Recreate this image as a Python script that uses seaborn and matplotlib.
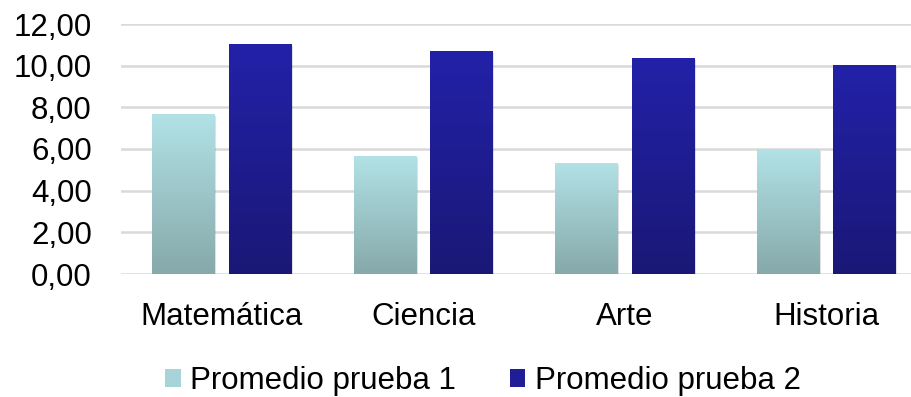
import matplotlib

matplotlib.use("Agg")

import matplotlib.pyplot as plt
import numpy as np
import pandas as pd
import seaborn as sns
from matplotlib.colors import LinearSegmentedColormap
from matplotlib.patches import Patch
from matplotlib.ticker import FuncFormatter

categories = ["Matemática", "Ciencia", "Arte", "Historia"]
series_names = ["Promedio prueba 1", "Promedio prueba 2"]
prueba_1 = [7.68, 5.66, 5.33, 5.99]
prueba_2 = [11.04, 10.70, 10.37, 10.03]
y_ticks = [0, 2, 4, 6, 8, 10, 12]

df = pd.DataFrame(
    {
        "materia": categories * 2,
        "serie": [series_names[0]] * 4 + [series_names[1]] * 4,
        "valor": prueba_1 + prueba_2,
    }
)

# bottom -> top colours of each gradient
gradients = {
    series_names[0]: ("#86a9aa", "#b2e2e6"),
    series_names[1]: ("#1a1876", "#2321a8"),
}
legend_colors = ["#a6d4d8", "#1f1e98"]

sns.set_theme(style="white")
plt.rcParams["font.family"] = ["Liberation Sans", "DejaVu Sans"]

fig = plt.figure(figsize=(9.11, 3.97), dpi=100)
ax = fig.add_axes([121 / 911, 1 - 274 / 397, 806 / 911, 250 / 397])

sns.barplot(
    data=df,
    x="materia",
    y="valor",
    hue="serie",
    order=categories,
    hue_order=series_names,
    width=0.76,
    gap=0.18,
    palette=legend_colors,
    legend=False,
    ax=ax,
)

ramp = np.linspace(0, 1, 256).reshape(-1, 1)
for container, name in zip(ax.containers, series_names):
    cmap = LinearSegmentedColormap.from_list(name, gradients[name])
    for bar in container:
        x0 = bar.get_x()
        w = bar.get_width()
        h = bar.get_height()
        # faint shadow
        ax.add_patch(
            plt.Rectangle((x0 + 0.006, -0.08), w, h, color="#000000",
                          alpha=0.12, lw=0, zorder=1.5)
        )
        img = ax.imshow(
            ramp,
            cmap=cmap,
            origin="lower",
            extent=[x0, x0 + w, 0, h],
            aspect="auto",
            zorder=2.5,
        )
        img.set_clip_path(bar)
        bar.set_facecolor("none")
        bar.set_edgecolor("none")

ax.set_xlim(-0.5, 3.5)
ax.set_ylim(0, 12)
ax.set_yticks(y_ticks)
ax.yaxis.set_major_formatter(FuncFormatter(lambda v, _: f"{v:.2f}".replace(".", ",")))
ax.yaxis.grid(True, color="#d9d9d9", linewidth=1.8)
ax.set_axisbelow(True)
for spine in ax.spines.values():
    spine.set_visible(False)
ax.set_xlabel("")
ax.set_ylabel("")
ax.tick_params(axis="both", length=0, labelsize=22.5, colors="black")
ax.tick_params(axis="y", pad=21)
ax.tick_params(axis="x", pad=20)

handles = [Patch(facecolor=c, edgecolor="none") for c in legend_colors]
fig.legend(
    handles,
    series_names,
    loc="center",
    bbox_to_anchor=(483 / 911, 1 - 381 / 397),
    ncol=2,
    frameon=False,
    fontsize=22.5,
    labelcolor="black",
    handlelength=0.5,
    handleheight=0.5,
    handletextpad=0.32,
    columnspacing=1.7,
    borderpad=0,
)

fig.savefig("out.png", dpi=100)
